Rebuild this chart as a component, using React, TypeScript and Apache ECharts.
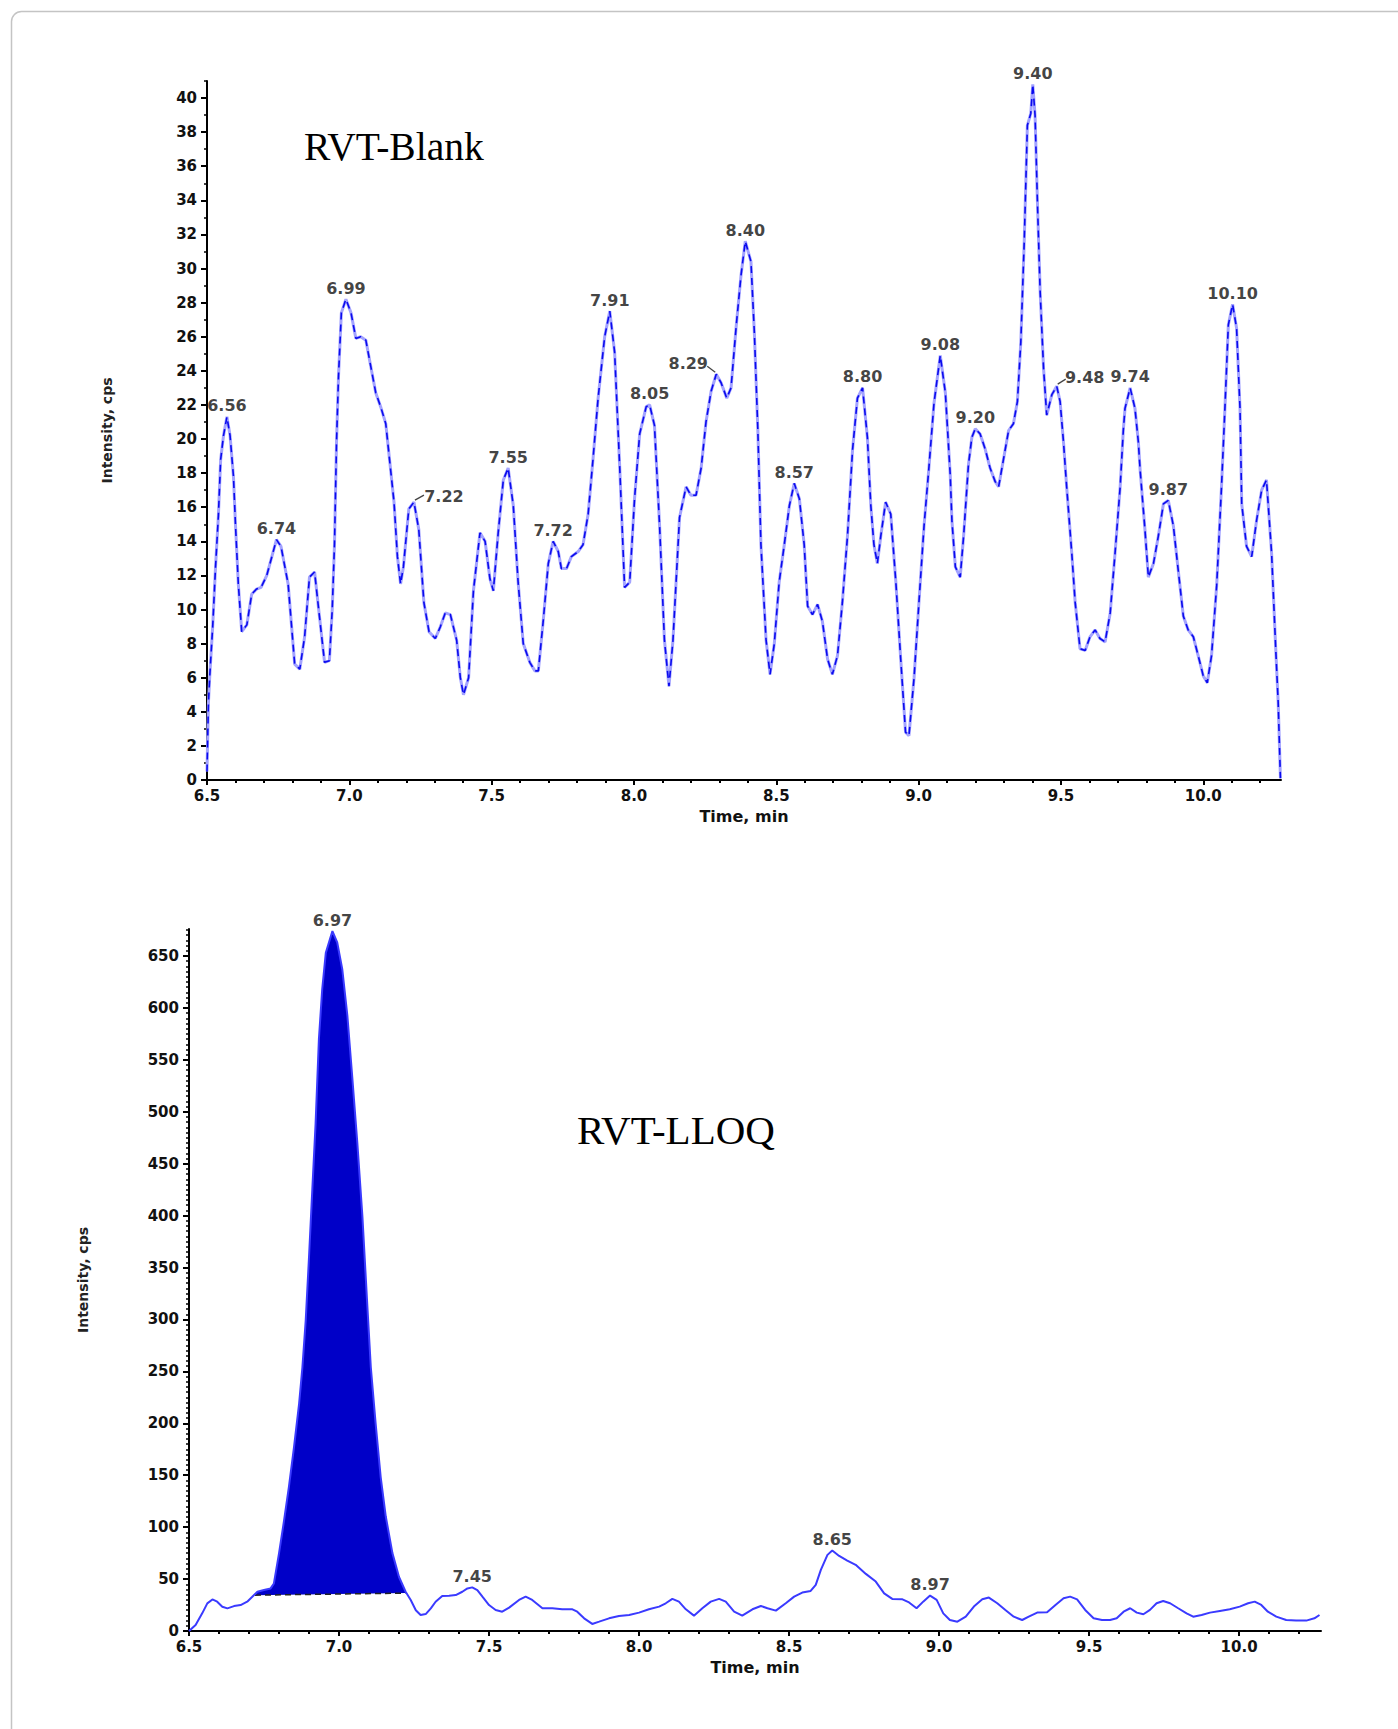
import React, { useEffect, useRef } from "react";
import * as echarts from "echarts";

// ---------- RVT-Blank chromatogram (time, min / intensity, cps) ----------
const blankTime = [
  6.5, 6.505, 6.51, 6.52, 6.53, 6.54, 6.548, 6.558, 6.57, 6.581, 6.593, 6.6, 6.61, 6.622, 6.64, 6.657, 6.674, 6.69, 6.71,
  6.744, 6.76, 6.785, 6.808, 6.826, 6.843, 6.86, 6.878, 6.895, 6.913, 6.93, 6.94, 6.948, 6.955, 6.962, 6.972, 6.988,
  7.006, 7.023, 7.04, 7.058, 7.076, 7.093, 7.11, 7.128, 7.145, 7.157, 7.169, 7.18, 7.19, 7.209, 7.227, 7.244, 7.262,
  7.28, 7.302, 7.32, 7.337, 7.355, 7.377, 7.39, 7.401, 7.419, 7.436, 7.459, 7.477, 7.494, 7.506, 7.523, 7.541, 7.558,
  7.576, 7.593, 7.611, 7.634, 7.652, 7.664, 7.681, 7.699, 7.716, 7.734, 7.745, 7.763, 7.78, 7.804, 7.821, 7.839, 7.856,
  7.874, 7.897, 7.915, 7.932, 7.95, 7.967, 7.985, 8.002, 8.02, 8.043, 8.055, 8.072, 8.09, 8.107, 8.123, 8.137, 8.16,
  8.183, 8.2, 8.218, 8.236, 8.253, 8.271, 8.289, 8.306, 8.326, 8.341, 8.359, 8.376, 8.391, 8.411, 8.423, 8.435, 8.446,
  8.464, 8.478, 8.493, 8.51, 8.528, 8.546, 8.563, 8.581, 8.598, 8.61, 8.627, 8.645, 8.662, 8.68, 8.697, 8.715, 8.732,
  8.75, 8.768, 8.785, 8.803, 8.82, 8.832, 8.843, 8.855, 8.867, 8.884, 8.902, 8.92, 8.937, 8.954, 8.966, 8.984, 9.001,
  9.019, 9.036, 9.054, 9.076, 9.094, 9.111, 9.117, 9.129, 9.146, 9.158, 9.175, 9.187, 9.199, 9.216, 9.234, 9.251, 9.269,
  9.281, 9.298, 9.316, 9.333, 9.347, 9.359, 9.371, 9.382, 9.394, 9.401, 9.409, 9.418, 9.427, 9.439, 9.45, 9.468, 9.485,
  9.497, 9.509, 9.52, 9.538, 9.55, 9.567, 9.585, 9.602, 9.62, 9.637, 9.655, 9.673, 9.69, 9.708, 9.719, 9.725, 9.743,
  9.76, 9.772, 9.778, 9.795, 9.807, 9.825, 9.842, 9.86, 9.877, 9.895, 9.912, 9.93, 9.947, 9.965, 9.982, 10.0, 10.014,
  10.029, 10.047, 10.064, 10.076, 10.088, 10.103, 10.117, 10.129, 10.135, 10.152, 10.17, 10.187, 10.205, 10.222, 10.24,
  10.255, 10.263, 10.271,
];
const blankIntensity = [
  0.5, 4.5, 6.2, 9.0, 12.5, 15.5, 18.8, 20.2, 21.3, 20.2, 17.8, 15.0, 11.5, 8.7, 9.1, 10.9, 11.2, 11.3, 12.0,
  14.1, 13.7, 11.5, 6.8, 6.5, 8.4, 11.9, 12.2, 9.6, 6.9, 7.0, 10.0, 13.9, 19.8, 23.7, 27.4, 28.2,
  27.4, 25.9, 26.0, 25.8, 24.2, 22.7, 21.9, 20.9, 18.2, 16.3, 13.1, 11.5, 12.5, 15.9, 16.3, 14.7, 10.4,
  8.7, 8.3, 9.0, 9.8, 9.7, 8.2, 6.0, 5.0, 6.0, 11.1, 14.5, 14.0, 11.8, 11.1, 14.5, 17.6, 18.3,
  16.1, 11.6, 8.0, 6.9, 6.4, 6.4, 9.3, 12.7, 14.0, 13.4, 12.4, 12.4, 13.1, 13.4, 13.8, 15.6, 18.8,
  22.4, 26.0, 27.5, 25.1, 18.3, 11.3, 11.6, 16.5, 20.3, 21.9, 22.0, 20.8, 14.9, 8.2, 5.5, 8.2, 15.4,
  17.2, 16.7, 16.7, 18.3, 21.0, 22.8, 23.8, 23.3, 22.4, 23.0, 26.6, 29.6, 31.6, 30.4, 26.2, 20.6, 13.8,
  8.2, 6.2, 8.0, 11.6, 13.8, 16.1, 17.4, 16.5, 13.8, 10.2, 9.7, 10.3, 9.3, 7.1, 6.2, 7.3, 10.4,
  14.3, 19.4, 22.4, 23.0, 20.1, 16.1, 13.8, 12.7, 14.3, 16.3, 15.6, 11.6, 7.1, 2.8, 2.6, 6.0, 10.4,
  14.9, 18.3, 22.1, 24.9, 22.7, 17.9, 15.2, 12.5, 11.9, 14.3, 18.5, 20.1, 20.6, 20.3, 19.4, 18.3, 17.5,
  17.2, 18.8, 20.5, 20.9, 22.2, 25.7, 31.6, 38.4, 39.1, 40.8, 39.0, 33.5, 28.6, 24.1, 21.4, 22.6, 23.1,
  22.2, 19.8, 17.2, 13.3, 10.4, 7.7, 7.6, 8.4, 8.8, 8.3, 8.1, 9.8, 13.3, 17.2, 20.5, 21.8, 23.0,
  21.8, 19.8, 18.2, 14.7, 11.9, 12.7, 14.3, 16.2, 16.4, 14.9, 12.3, 9.6, 8.8, 8.4, 7.3, 6.1, 5.7,
  7.3, 11.4, 17.2, 21.8, 26.7, 27.9, 26.5, 21.8, 16.2, 13.7, 13.1, 15.2, 17.0, 17.6, 13.3,
  7.5, 4.6, 0.1,
];
const blankPeakTimes = [6.57, 6.744, 6.988, 7.227, 7.558, 7.716, 7.915, 8.055, 8.289, 8.391, 8.563, 8.803, 9.076, 9.199, 9.401, 9.485, 9.743, 9.877, 10.103];
const blankPeakValues = [21.3, 14.1, 28.2, 16.3, 18.3, 14.0, 27.5, 22.0, 23.8, 31.6, 17.4, 23.0, 24.9, 20.6, 40.8, 23.1, 23.0, 16.4, 27.9];
const blankPeakLabels = ["6.56", "6.74", "6.99", "7.22", "7.55", "7.72", "7.91", "8.05", "8.29", "8.40", "8.57", "8.80", "9.08", "9.20", "9.40", "9.48", "9.74", "9.87", "10.10"];

// ---------- RVT-LLOQ chromatogram ----------
const lloqTime = [
  6.5, 6.522, 6.544, 6.561, 6.578, 6.594, 6.611, 6.628, 6.65, 6.672, 6.694, 6.711, 6.728, 6.75, 6.772, 6.783, 6.8,
  6.817, 6.833, 6.85, 6.867, 6.878, 6.889, 6.9, 6.911, 6.922, 6.933, 6.944, 6.956, 6.978, 6.994, 7.011, 7.028, 7.044,
  7.061, 7.078, 7.094, 7.106, 7.122, 7.139, 7.156, 7.178, 7.2, 7.222, 7.239, 7.256, 7.272, 7.289, 7.306, 7.322, 7.344,
  7.367, 7.389, 7.411, 7.428, 7.444, 7.461, 7.478, 7.5, 7.522, 7.544, 7.567, 7.6, 7.622, 7.644, 7.678, 7.711, 7.744,
  7.778, 7.794, 7.817, 7.844, 7.867, 7.9, 7.933, 7.967, 8.0, 8.033, 8.067, 8.089, 8.111, 8.133, 8.156, 8.183, 8.211,
  8.239, 8.267, 8.289, 8.317, 8.344, 8.378, 8.406, 8.428, 8.456, 8.489, 8.517, 8.544, 8.572, 8.589, 8.606, 8.628,
  8.644, 8.667, 8.694, 8.722, 8.756, 8.789, 8.817, 8.844, 8.878, 8.9, 8.925, 8.948, 8.97, 8.992, 9.014, 9.036, 9.061,
  9.089, 9.116, 9.144, 9.166, 9.194, 9.221, 9.249, 9.277, 9.299, 9.327, 9.36, 9.388, 9.415, 9.437, 9.46, 9.487, 9.515,
  9.543, 9.57, 9.592, 9.615, 9.637, 9.659, 9.681, 9.703, 9.725, 9.747, 9.77, 9.797, 9.825, 9.847, 9.875, 9.903, 9.936,
  9.969, 10.002, 10.03, 10.052, 10.074, 10.096, 10.124, 10.157, 10.19, 10.224, 10.251, 10.268,
];
const lloqIntensity = [
  0, 5.8, 17, 26.6, 30.4, 28.2, 23.4, 21.8, 24, 25, 28.2, 33, 37.8, 39.4, 41, 45.8, 74.7,
  106.7, 138.8, 177, 219, 254, 299, 360, 425, 489, 570, 618, 653, 674, 663, 637, 592, 534,
  470, 399, 315, 254, 200, 148, 110, 75, 52, 37.8, 29.8, 20, 15.4, 16.3, 21.8, 28.2, 33.7,
  34, 34.6, 37.8, 41, 42, 39.4, 33, 25, 20.2, 18.6, 22.5, 29.9, 33.1, 29.9, 21.9, 21.9, 20.9,
  20.9, 18.6, 12.2, 6.8, 9, 12.2, 14.5, 15.4, 17.7, 20.9, 23.5, 26.7, 30.9, 28.3, 20.9, 14.8, 21.9,
  28.3, 30.9, 28.3, 18.6, 14.8, 20.9, 24.1, 21.9, 19.6, 26.7, 33.1, 37, 38.6, 44.4, 58.8, 73.3,
  77.5, 72.3, 67.8, 63.7, 55, 47.6, 36.3, 30.9, 30.5, 27.5, 21.9, 28.5, 34.1, 30, 17, 10.6, 9,
  13.8, 23.5, 30.5, 32.2, 26.7, 20.3, 13.8, 10.6, 13.8, 17.7, 18, 25.1, 31.5, 33.1, 30.5, 20.3, 12.2,
  10.6, 10.6, 12.2, 18.6, 21.9, 17.7, 16.1, 20.3, 26.7, 28.9, 26.7, 21.9, 17, 13.8, 15.4, 17.7, 19.3,
  20.9, 23.5, 26.7, 28.3, 25.1, 18.6, 13.8, 10.6, 10, 10, 12.2, 15.4,
];
const lloqPeakTimes = [6.978, 7.444, 8.644, 8.97];
const lloqPeakValues = [674, 42, 77.5, 34.1];
const lloqPeakLabels = ["6.97", "7.45", "8.65", "8.97"];
// integration baseline of the 6.97 peak: [time, intensity] at start and end
const lloqBaseStart = [6.72, 34.5];
const lloqBaseEnd = [7.222, 36.5];

// axis ranges and tick values
const timeMin = 6.5;
const timeMax = 10.273;
const blankYMax = 41;
const lloqYMax = 676;
const timeLabels = [6.5, 7.0, 7.5, 8.0, 8.5, 9.0, 9.5, 10.0];
const timeMinor: number[] = [];
for (let i = 0; i <= 37; i++) timeMinor.push(Number((6.5 + i * 0.1).toFixed(1)));
const blankYLabels: number[] = [];
for (let v = 0; v <= 40; v += 2) blankYLabels.push(v);
const blankYMinor: number[] = [];
for (let v = 0; v <= 41; v += 1) blankYMinor.push(v);
const lloqYLabels: number[] = [];
for (let v = 0; v <= 650; v += 50) lloqYLabels.push(v);
const lloqYMinor: number[] = [];
for (let v = 0; v <= 675; v += 5) lloqYMinor.push(v);

// ---------- styles ----------
const FONT = "DejaVu Sans";
const tickLabel = { fontFamily: FONT, fontWeight: "bold" as const, fontSize: 15, color: "#111" };
const peakLabel = { fontFamily: FONT, fontWeight: "bold" as const, fontSize: 16, color: "#111" };
const labelShift: Record<string, [number, number]> = { "7.22": [30, 5], "8.29": [-28, 0], "9.48": [28, 2] };
const leaderShape: Record<string, [number, number, number, number]> = {
  "7.22": [1, -2, 10, -7],
  "8.29": [-1, -2, -9, -8],
  "9.48": [1, -2, 9, -7],
};

function mainX(gridIndex: number) {
  return {
    type: "value",
    gridIndex,
    position: "bottom",
    min: timeMin,
    max: timeMax,
    interval: 0.5,
    axisLine: { show: true, onZero: false, lineStyle: { color: "#000", width: 2 } },
    axisTick: { show: true, length: 5, customValues: timeLabels, lineStyle: { color: "#000", width: 2 } },
    splitLine: { show: false },
    axisLabel: { ...tickLabel, margin: 8, customValues: timeLabels, formatter: (v: number) => v.toFixed(1) },
    name: "Time, min",
    nameLocation: "middle",
    nameGap: 28,
    nameTextStyle: { fontFamily: FONT, fontWeight: "bold", fontSize: 16, color: "#111" },
  };
}
function minorX(gridIndex: number) {
  return {
    type: "value",
    gridIndex,
    position: "bottom",
    min: timeMin,
    max: timeMax,
    axisLine: { show: false, onZero: false },
    axisTick: { show: true, length: 3, customValues: timeMinor, lineStyle: { color: "#000", width: 2 } },
    axisLabel: { show: false },
    splitLine: { show: false },
  };
}
function mainY(gridIndex: number, max: number, interval: number, labels: number[], nameGap: number) {
  return {
    type: "value",
    gridIndex,
    position: "left",
    min: 0,
    max,
    interval,
    axisLine: { show: true, onZero: false, lineStyle: { color: "#000", width: 2 } },
    axisTick: { show: true, length: 6, customValues: labels, lineStyle: { color: "#000", width: 2 } },
    splitLine: { show: false },
    axisLabel: { ...tickLabel, margin: 10, customValues: labels },
    name: "Intensity, cps",
    nameLocation: "middle",
    nameRotate: 90,
    nameGap,
    nameTextStyle: { fontFamily: FONT, fontWeight: "bold", fontSize: 14, color: "#222" },
  };
}
function minorY(gridIndex: number, max: number, ticks: number[]) {
  return {
    type: "value",
    gridIndex,
    position: "left",
    min: 0,
    max,
    axisLine: { show: false, onZero: false },
    axisTick: { show: true, length: 3, customValues: ticks, lineStyle: { color: "#000", width: 1.5 } },
    axisLabel: { show: false },
    splitLine: { show: false },
  };
}

const blankData = blankTime.map((t, i) => [t, blankIntensity[i]]);
const lloqData = lloqTime.map((t, i) => [t, lloqIntensity[i]]);

const blankPeaks = blankPeakTimes.map((t, i) => {
  const name = blankPeakLabels[i];
  const shift = labelShift[name];
  return {
    name,
    value: [t, blankPeakValues[i]],
    label: shift ? { offset: shift } : undefined,
  };
});
const blankLeaders = blankPeakTimes
  .map((t, i) => ({ name: blankPeakLabels[i], value: [t, blankPeakValues[i]] }))
  .filter((d) => leaderShape[d.name]);
const lloqPeaks = lloqPeakTimes.map((t, i) => ({ name: lloqPeakLabels[i], value: [t, lloqPeakValues[i]] }));

const fillPoints: number[][] = [lloqBaseStart];
lloqTime.forEach((t, i) => {
  if (t > lloqBaseStart[0] && t <= lloqBaseEnd[0]) fillPoints.push([t, lloqIntensity[i]]);
});
fillPoints.push(lloqBaseEnd);

const option: any = {
  animation: false,
  backgroundColor: "#ffffff",
  grid: [
    { left: 207, top: 81, width: 1074, height: 699 },
    { left: 189, top: 929, width: 1132, height: 702 },
  ],
  xAxis: [mainX(0), minorX(0), mainX(1), minorX(1)],
  yAxis: [
    mainY(0, blankYMax, 2, blankYLabels, 93),
    minorY(0, blankYMax, blankYMinor),
    mainY(1, lloqYMax, 50, lloqYLabels, 99),
    minorY(1, lloqYMax, lloqYMinor),
  ],
  graphic: [
    {
      type: "rect",
      left: 9,
      top: 9,
      shape: { width: 1420, height: 1760, r: 10 },
      style: { fill: "none", stroke: "#c4c4c4", lineWidth: 1.5 },
      silent: true,
    },
    {
      type: "text",
      x: 304,
      y: 147,
      style: { text: "RVT-Blank", font: '39.5px "Liberation Serif"', fill: "#000", verticalAlign: "middle" },
    },
    {
      type: "text",
      x: 577,
      y: 1130,
      style: { text: "RVT-LLOQ", font: '41px "Liberation Serif"', fill: "#000", verticalAlign: "middle" },
    },
  ],
  series: [
    {
      type: "line",
      xAxisIndex: 0,
      yAxisIndex: 0,
      data: blankData,
      symbol: "none",
      lineStyle: { color: "#a3a3ff", width: 3 },
      z: 2,
    },
    {
      type: "line",
      xAxisIndex: 0,
      yAxisIndex: 0,
      data: blankData,
      symbol: "none",
      lineStyle: { color: "#0a0aee", width: 1.6, type: [7, 5] },
      z: 3,
    },
    {
      type: "scatter",
      xAxisIndex: 0,
      yAxisIndex: 0,
      data: blankPeaks,
      symbolSize: 0,
      label: { show: true, position: "top", distance: 3, formatter: "{b}", ...peakLabel },
      z: 5,
    },
    {
      type: "custom",
      xAxisIndex: 0,
      yAxisIndex: 0,
      data: blankLeaders,
      renderItem: (params: any, api: any) => {
        const d = blankLeaders[params.dataIndex];
        const s = leaderShape[d.name];
        const p = api.coord([api.value(0), api.value(1)]);
        return {
          type: "line",
          shape: { x1: p[0] + s[0], y1: p[1] + s[1], x2: p[0] + s[2], y2: p[1] + s[3] },
          style: { stroke: "#444", lineWidth: 1.3 },
        };
      },
      z: 4,
    },
    {
      type: "custom",
      xAxisIndex: 2,
      yAxisIndex: 2,
      data: [[6.97, 300]],
      renderItem: (_params: any, api: any) => ({
        type: "polygon",
        shape: { points: fillPoints.map((p) => api.coord(p)) },
        style: { fill: "#0000c8" },
      }),
      z: 2,
    },
    {
      type: "line",
      xAxisIndex: 2,
      yAxisIndex: 2,
      data: [lloqBaseStart, lloqBaseEnd],
      symbol: "none",
      lineStyle: { color: "#222", width: 1.5, type: [6, 4] },
      z: 3,
    },
    {
      type: "line",
      xAxisIndex: 2,
      yAxisIndex: 2,
      data: lloqData,
      symbol: "none",
      lineStyle: { color: "#3a3aff", width: 2 },
      z: 4,
    },
    {
      type: "scatter",
      xAxisIndex: 2,
      yAxisIndex: 2,
      data: lloqPeaks,
      symbolSize: 0,
      label: { show: true, position: "top", distance: 3, formatter: "{b}", ...peakLabel },
      z: 5,
    },
  ],
};

export default function App() {
  const ref = useRef<HTMLDivElement>(null);
  useEffect(() => {
    document.body.style.margin = "0";
    document.body.style.overflow = "hidden";
    const chart = echarts.init(ref.current as HTMLDivElement, null, { renderer: "svg" });
    chart.setOption(option);
    return () => chart.dispose();
  }, []);
  return <div ref={ref} style={{ width: 1398, height: 1729 }} />;
}
